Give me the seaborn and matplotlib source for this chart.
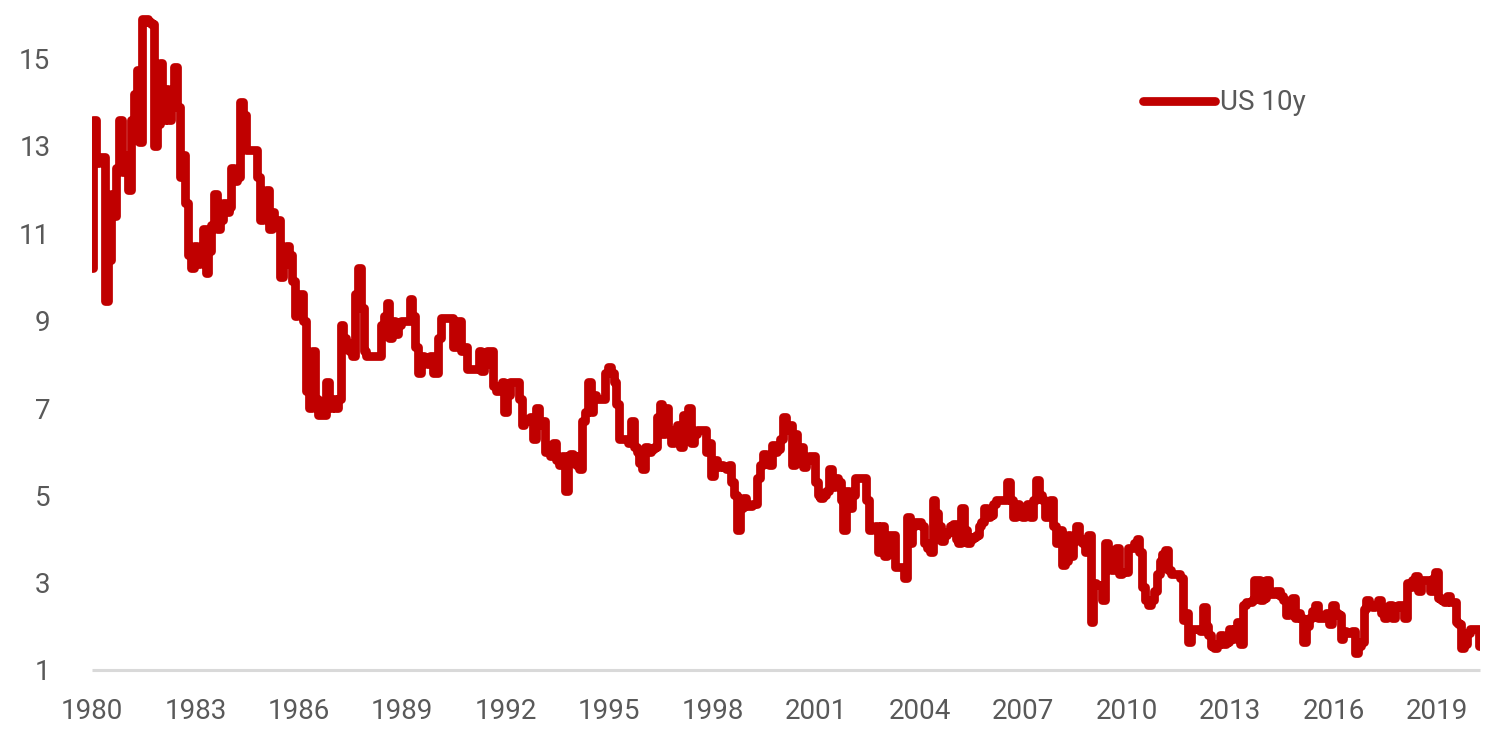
import numpy as np
import pandas as pd
import matplotlib
matplotlib.use("Agg")
import matplotlib.pyplot as plt
import seaborn as sns

# Monthly US 10y yields (%)
y1980 = [10.2, 13.6, 12.6, 12.75, 12.75, 9.45, 10.4, 11.9, 11.4, 12.5, 13.6, 12.4]
y1981 = [12.8, 12.0, 13.6, 14.2, 14.75, 13.1, 15.9, 15.9, 15.85, 15.8, 13.0, 13.5]
y1982 = [14.9, 13.6, 14.3, 13.6, 14.0, 14.8, 13.9, 12.3, 12.8, 11.7, 10.5, 10.2]
y1983 = [10.7, 10.3, 10.6, 11.1, 10.1, 10.6, 11.2, 11.9, 11.1, 11.3, 11.7, 11.5]
y1984 = [11.6, 12.5, 12.2, 12.3, 14.0, 13.7, 12.9, 12.9, 12.9, 12.9, 12.3, 11.3]
y1985 = [11.5, 12.0, 11.1, 11.5, 11.3, 11.3, 10.0, 10.3, 10.7, 10.5, 9.9, 9.1]
y1986 = [9.5, 9.6, 9.0, 7.4, 7.0, 8.3, 7.2, 6.85, 6.85, 6.85, 7.6, 7.0]
y1987 = [7.2, 7.0, 7.2, 8.9, 8.6, 8.5, 8.3, 8.2, 9.6, 10.2, 9.3, 8.3]
y1988 = [8.2, 8.2, 8.2, 8.2, 8.2, 8.9, 9.1, 9.4, 8.6, 9.0, 8.7, 8.9]
y1989 = [9.0, 9.0, 9.0, 9.5, 9.1, 8.4, 7.8, 8.2, 8.1, 8.0, 8.2, 7.8]
y1990 = [7.8, 8.6, 9.05, 9.05, 9.05, 9.05, 8.4, 8.6, 9.0, 8.3, 8.4, 7.9]
y1991 = [7.9, 7.9, 7.9, 8.3, 7.85, 8.0, 8.3, 8.3, 7.5, 7.4, 7.5, 7.6]
y1992 = [6.9, 7.3, 7.6, 7.6, 7.6, 7.2, 6.6, 6.75, 6.7, 6.8, 6.3, 7.0]
y1993 = [6.6, 6.7, 6.0, 6.1, 5.9, 6.2, 5.8, 5.7, 5.9, 5.1, 5.9, 5.95]
y1994 = [5.9, 5.7, 5.6, 6.7, 6.9, 7.6, 6.9, 7.3, 7.2, 7.2, 7.2, 7.8]
y1995 = [7.95, 7.8, 7.6, 7.1, 6.3, 6.3, 6.3, 6.2, 6.7, 6.1, 6.0, 5.75]
y1996 = [5.6, 6.1, 6.0, 6.05, 6.1, 6.8, 7.1, 6.4, 7.0, 6.5, 6.2, 6.4]
y1997 = [6.6, 6.1, 6.85, 6.6, 7.0, 6.2, 6.4, 6.5, 6.5, 6.5, 6.0, 6.2]
y1998 = [5.45, 5.8, 5.65, 5.7, 5.65, 5.6, 5.7, 5.3, 5.0, 4.2, 4.7, 4.95]
y1999 = [4.75, 4.75, 4.8, 4.8, 5.4, 5.7, 5.95, 5.9, 5.7, 6.15, 6.0, 6.05]
y2000 = [6.3, 6.8, 6.5, 6.6, 5.7, 6.4, 6.1, 6.1, 5.65, 5.8, 5.9, 5.9]
y2001 = [5.3, 5.0, 4.95, 5.0, 5.1, 5.6, 5.2, 5.4, 5.3, 4.9, 4.2, 5.1]
y2002 = [4.7, 5.0, 5.4, 5.4, 5.4, 5.4, 4.9, 4.2, 4.25, 4.3, 3.7, 4.3]
y2003 = [3.6, 4.0, 4.1, 4.1, 3.35, 3.35, 3.35, 3.1, 4.5, 3.9, 4.3, 4.4]
y2004 = [4.4, 4.3, 3.9, 3.8, 3.7, 4.9, 4.6, 4.3, 3.95, 4.1, 4.15, 4.3]
y2005 = [4.35, 4.0, 3.9, 4.7, 4.2, 3.9, 4.0, 4.05, 4.1, 4.3, 4.4, 4.7]
y2006 = [4.5, 4.55, 4.8, 4.9, 4.9, 4.9, 4.9, 5.3, 4.9, 4.5, 4.8, 4.6]
y2007 = [4.5, 4.7, 4.8, 4.5, 4.9, 5.35, 5.0, 4.9, 4.5, 4.55, 4.9, 4.3]
y2008 = [3.9, 4.2, 3.4, 3.5, 4.1, 3.6, 3.95, 4.3, 4.0, 3.9, 3.7, 4.1]
y2009 = [2.1, 3.0, 2.95, 2.95, 2.6, 3.9, 3.6, 3.3, 3.6, 3.8, 3.2, 3.25]
y2010 = [3.25, 3.8, 3.8, 3.9, 4.0, 3.7, 2.9, 2.6, 2.5, 2.6, 2.8, 3.2]
y2011 = [3.5, 3.65, 3.75, 3.3, 3.2, 3.2, 3.2, 3.1, 2.14, 2.3, 1.65, 1.95]
y2012 = [1.95, 1.95, 1.9, 2.45, 2.0, 1.8, 1.55, 1.5, 1.6, 1.8, 1.6, 1.65]
y2013 = [1.95, 1.7, 1.95, 2.1, 1.6, 2.5, 2.55, 2.55, 2.6, 3.05, 3.05, 2.6]
y2014 = [2.65, 3.05, 2.75, 2.75, 2.8, 2.8, 2.7, 2.6, 2.25, 2.5, 2.65, 2.2]
y2015 = [2.3, 2.2, 1.65, 2.0, 2.2, 2.35, 2.5, 2.2, 2.2, 2.2, 2.3, 2.05]
y2016 = [2.5, 2.3, 2.25, 1.7, 1.9, 1.85, 1.85, 1.9, 1.4, 1.55, 1.65, 2.4]
y2017 = [2.6, 2.5, 2.45, 2.5, 2.6, 2.3, 2.2, 2.4, 2.5, 2.2, 2.45, 2.5]
y2018 = [2.5, 2.2, 3.0, 2.9, 3.05, 3.15, 2.8, 3.05, 3.05, 3.05, 2.8, 3.1]
y2019 = [3.25, 2.65, 2.6, 2.55, 2.7, 2.55, 2.55, 2.1, 2.05, 1.5, 1.6, 1.85]
y2020 = [1.95, 1.95, 1.95, 1.55]

series_name = "US 10y"
start_year = 1980
tick_years = list(range(1980, 2020, 3))
y_ticks = [1, 3, 5, 7, 9, 11, 13, 15]

yearly = [y1980, y1981, y1982, y1983, y1984, y1985, y1986, y1987, y1988, y1989,
          y1990, y1991, y1992, y1993, y1994, y1995, y1996, y1997, y1998, y1999,
          y2000, y2001, y2002, y2003, y2004, y2005, y2006, y2007, y2008, y2009,
          y2010, y2011, y2012, y2013, y2014, y2015, y2016, y2017, y2018, y2019,
          y2020]
values = np.concatenate([np.asarray(v, dtype=float) for v in yearly])
dates = start_year + np.arange(len(values)) / 12.0
df = pd.DataFrame({"date": dates, "yield": values, "series": series_name})

sns.set_style("white")
plt.rcParams['font.family'] = ['Roboto', 'DejaVu Sans']

W, H = 1502, 752
fig = plt.figure(figsize=(W / 100, H / 100), dpi=100)
ax = fig.add_axes([92 / W, (H - 670) / H, (1480 - 92) / W, (670 - 15) / H])

red = "#C00000"
grey_text = "#595959"
grey_axis = "#D9D9D9"

sns.lineplot(data=df, x="date", y="yield", hue="series", palette=[red],
             linewidth=6.3, estimator=None, sort=False, ax=ax,
             drawstyle="steps-mid",
             solid_capstyle="round", solid_joinstyle="round")

ax.set_xlim(start_year, dates[-1])
ax.set_ylim(1, 16)
ax.set_xticks(tick_years)
ax.set_xticklabels([str(t) for t in tick_years])
ax.set_yticks(y_ticks)
ax.set_yticklabels([str(t) for t in y_ticks])
ax.set_xlabel("")
ax.set_ylabel("")

for s in ["left", "right", "top"]:
    ax.spines[s].set_visible(False)
ax.spines["bottom"].set_color(grey_axis)
ax.spines["bottom"].set_linewidth(2.2)
ax.spines["bottom"].set_capstyle("butt")

ax.tick_params(axis="x", which="major", length=5, width=2.2, color=grey_axis,
               direction="out", pad=15, labelsize=20, labelcolor=grey_text)
ax.tick_params(axis="y", which="major", length=0, pad=30, labelsize=20,
               labelcolor=grey_text)
ax.grid(False)

leg = ax.legend(loc="center left", bbox_to_anchor=(0.757, 0.866), frameon=False,
                fontsize=20, handlelength=2.6, handletextpad=0.2,
                borderpad=0, borderaxespad=0)
for t in leg.get_texts():
    t.set_color(grey_text)
for h in leg.get_lines():
    h.set_linewidth(6.3)
    h.set_solid_capstyle("round")
    h.set_drawstyle("default")

fig.savefig("out.png", dpi=100)
